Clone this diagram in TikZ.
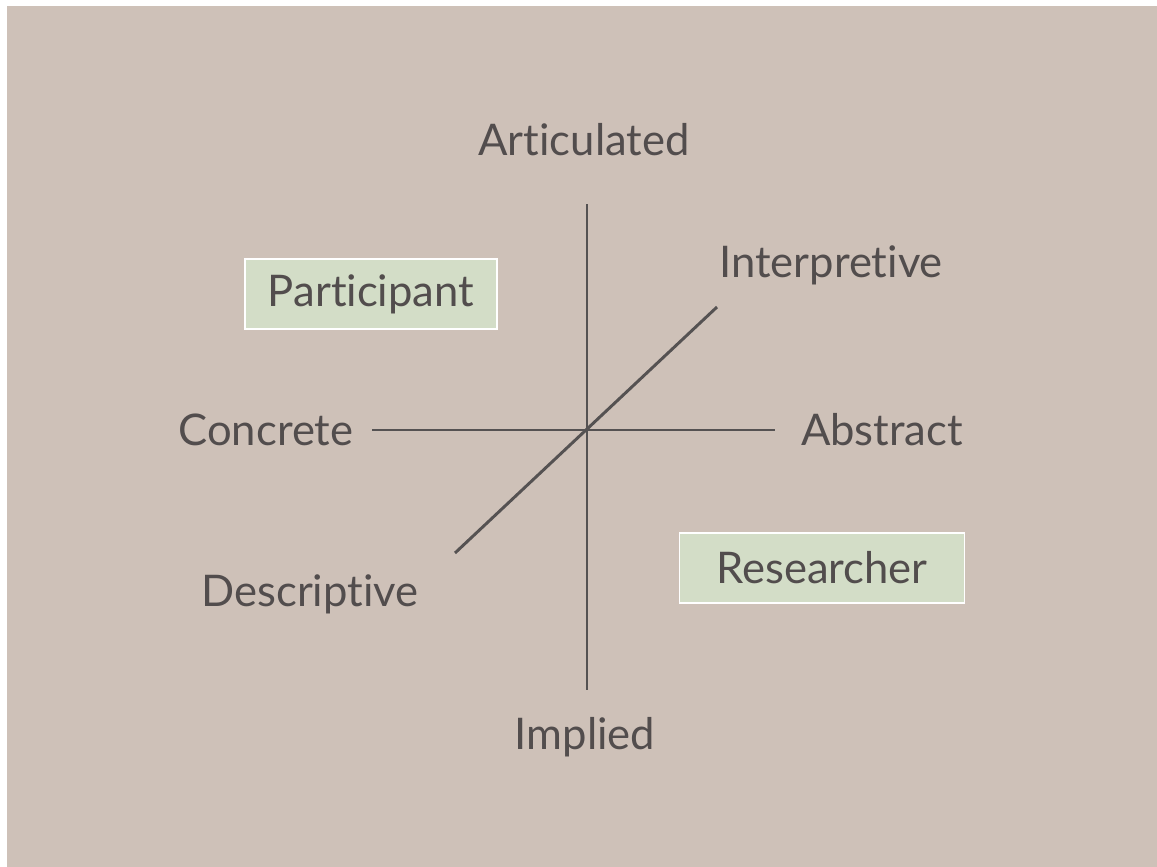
\documentclass[tikz,border=0pt]{standalone}
\usepackage{fontspec}
\setmainfont{Lato}[Ligatures={NoCommon,NoRare,NoContextual}]
\usetikzlibrary{positioning}
\definecolor{axBack}{RGB}{206,193,184}
\definecolor{axBox}{RGB}{211,221,199}
\definecolor{axText}{RGB}{82,77,77}
\definecolor{axLine}{RGB}{85,82,82}
\tikzset{
    base/.style={font=\fontsize{31}{37}\selectfont, text=axText, inner sep=0pt},
    pole/.style={base},
    role/.style={base, rectangle, draw=white, line width=1.2pt, fill=axBox,
                 minimum height=70*0.025cm},
    axis/.style={draw=axLine, line width=2.1pt}
}
\begin{document}
\begin{tikzpicture}[x=0.025cm, y=-0.025cm]
  \useasboundingbox (0,0) rectangle (1157,867);
  \fill[white] (0,0) rectangle (1157,867);
  \fill[axBack] (7,6) rectangle (1157,867);

  % axis ends
  \coordinate (top) at (587,204);
  \coordinate (bottom) at (587,690);
  \coordinate (left) at (372,430);
  \coordinate (right) at (775,430);
  \coordinate (low) at (455,553);
  \coordinate (high) at (717,307);

  \draw[axis] (top) -- (bottom);
  \draw[axis] (left) -- (right);
  \draw[axis] (low) -- (high);

  \node[pole] (articulated) at (584,140) {Articulated};
  \node[pole] (implied) at (585,737) {Implied};
  \node[pole] (concrete) at (266,430) {Concrete};
  \node[pole] (abstract) at (882,430) {Abstract};
  \node[pole] (interpretive) at (831,265) {Interpretive};
  \node[pole] (descriptive) at (310,594) {Descriptive};

  \node[role, minimum width=252*0.025cm] (participant) at (371,294) {Participant};
  \node[role, minimum width=285*0.025cm] (researcher) at (822,568) {Researcher};
\end{tikzpicture}
\end{document}
